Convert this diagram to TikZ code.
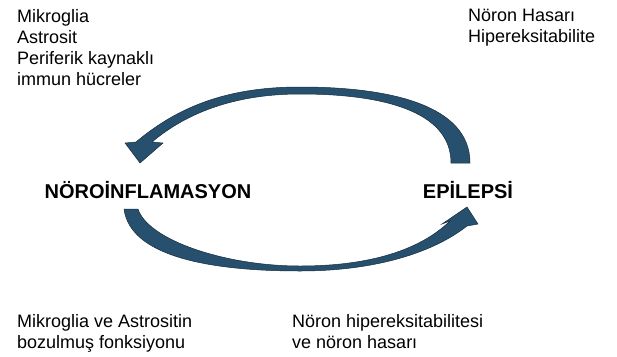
\documentclass[tikz,border=0pt]{standalone}
\usepackage{fontspec}
\setmainfont{Liberation Sans}
\usepackage{xcolor}
\usetikzlibrary{positioning}
\definecolor{arcblue}{RGB}{38,80,110}
\definecolor{arcedge}{RGB}{24,44,60}

\begin{document}
\begin{tikzpicture}[
  x=1pt, y=-1pt,
  note/.style={anchor=base west, align=left, inner sep=0pt, font=\fontsize{18}{21}\selectfont},
  title/.style={anchor=base, inner sep=0pt, font=\fontsize{20}{24}\selectfont\bfseries},
  curl/.style={fill=arcblue, draw=arcedge, line width=0.5pt, line join=miter}
]
\useasboundingbox (0,0) rectangle (617,356);

% the two states
\node[title] (neuroinf) at (148,198) {NÖROİNFLAMASYON};
\node[title] (epilepsy) at (468,198) {EPİLEPSİ};

% side notes (base = last line)
\node[note] (cells) at (17,85) {Mikroglia\\Astrosit\\Periferik kaynaklı\\immun hücreler};
\node[note] (damage) at (468,42) {Nöron Hasarı\\Hipereksitabilite};
\node[note] (dysfunc) at (17,348) {Mikroglia ve Astrositin\\bozulmuş fonksiyonu};
\node[note] (hyperexc) at (292,348) {Nöron hipereksitabilitesi\\ve nöron hasarı};

% upper arrow: epilepsi -> noroinflamasyon
\draw[curl] (451,163) -- (470,163)
  .. controls (470,105) and (390,87) .. (300,87)
  .. controls (230,87) and (180,105) .. (136,142)
  -- (125,143) -- (140,163) -- (163,143) -- (152,142)
  .. controls (190,110) and (240,94) .. (300,94)
  .. controls (380,94) and (451,110) .. cycle;

% lower arrow: noroinflamasyon -> epilepsi
\draw[curl] (124,209) -- (138,209)
  .. controls (148,240) and (225,266) .. (300,266)
  .. controls (370,266) and (420,250) .. (450,221)
  -- (442,224) -- (467,207) -- (478,224) -- (467,226)
  .. controls (430,255) and (370,271) .. (300,271)
  .. controls (205,271) and (130,255) .. cycle;
\end{tikzpicture}
\end{document}
